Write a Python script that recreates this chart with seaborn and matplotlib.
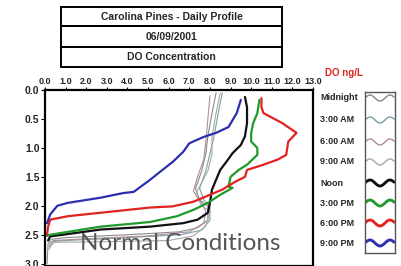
import numpy as np
import pandas as pd
import matplotlib
matplotlib.use("Agg")
import matplotlib.pyplot as plt
import seaborn as sns
from matplotlib.patches import Rectangle

# ===================== data =====================
series_names = ["Midnight", "3:00 AM", "6:00 AM", "9:00 AM", "Noon", "3:00 PM", "6:00 PM", "9:00 PM"]
series_colors = ["#8a8a8a", "#7d9fa8", "#b08c9c", "#a8a8a8", "#111111", "#1f9a2c", "#e0231e", "#2b2fb0"]
series_widths = [0.8, 0.8, 0.8, 0.8, 1.6, 1.6, 1.6, 1.6]

do_midnight = [8.3, 8.1, 7.9, 7.8, 7.6, 7.3, 7.5, 7.9, 7.9, 7.4, 6.5, 4.0, 1.0, 0.3, 0.15, 0.1]
dep_midnight = [0.05, 0.4, 0.8, 1.1, 1.4, 1.7, 1.9, 2.0, 2.25, 2.38, 2.45, 2.5, 2.55, 2.58, 2.65, 3.0]
do_3am = [8.6, 8.4, 8.2, 8.0, 7.8, 7.5, 7.7, 8.0, 8.0, 7.6, 6.6, 4.0, 1.0, 0.3, 0.2]
dep_3am = [0.05, 0.4, 0.8, 1.1, 1.4, 1.7, 1.9, 2.0, 2.25, 2.42, 2.5, 2.55, 2.6, 2.62, 2.7]
do_6am = [8.0, 7.9, 7.8, 7.7, 7.4, 7.2, 7.6, 7.8, 7.7, 7.0, 5.0, 2.0, 0.4, 0.2]
dep_6am = [0.1, 0.5, 0.9, 1.2, 1.5, 1.75, 1.95, 2.1, 2.3, 2.45, 2.52, 2.57, 2.6, 2.75]
do_9am = [8.5, 8.3, 8.1, 8.1, 7.9, 7.6, 7.3, 7.6, 8.0, 7.8, 7.2, 6.0, 3.0, 0.5, 0.2]
dep_9am = [0.05, 0.4, 0.8, 1.1, 1.4, 1.6, 1.8, 2.0, 2.1, 2.35, 2.52, 2.6, 2.62, 2.63, 2.7]
do_noon = [9.7, 9.8, 9.8, 9.7, 9.5, 9.1, 8.8, 8.5, 8.3, 8.1, 8.0, 7.9, 7.4, 6.7, 5.1, 2.7, 0.25, 0.15]
dep_noon = [0.12, 0.3, 0.57, 0.8, 0.95, 1.09, 1.24, 1.38, 1.55, 1.72, 1.95, 2.12, 2.24, 2.3, 2.36, 2.41, 2.53, 2.6]
do_3pm = [10.4, 10.3, 10.1, 10.0, 10.0, 10.3, 10.3, 9.8, 9.4, 9.0, 8.9, 9.1, 8.5, 7.9, 7.2, 6.4, 5.1, 2.7, 0.25, 0.1]
dep_3pm = [0.17, 0.4, 0.57, 0.74, 0.89, 1.0, 1.12, 1.29, 1.38, 1.5, 1.67, 1.69, 1.81, 1.95, 2.07, 2.18, 2.28, 2.36, 2.5, 2.52]
do_6pm = [10.5, 10.5, 10.6, 11.5, 12.2, 11.8, 11.7, 11.3, 10.6, 9.8, 9.7, 9.2, 8.6, 8.0, 7.2, 6.2, 5.1, 2.7, 1.1, 0.25, 0.15, 0.1]
dep_6pm = [0.14, 0.3, 0.4, 0.57, 0.74, 0.89, 1.12, 1.2, 1.29, 1.38, 1.5, 1.59, 1.72, 1.81, 1.93, 2.01, 2.03, 2.12, 2.18, 2.24, 2.36, 2.5]
do_9pm = [9.5, 9.3, 8.9, 8.3, 7.7, 7.0, 6.7, 6.2, 5.7, 5.1, 4.3, 3.8, 2.7, 1.1, 0.6, 0.25, 0.15, 0.1]
dep_9pm = [0.17, 0.4, 0.64, 0.74, 0.81, 0.92, 1.07, 1.24, 1.38, 1.55, 1.76, 1.78, 1.86, 1.95, 2.0, 2.15, 2.25, 2.3]

x_ticks = [0, 1, 2, 3, 4, 5, 6, 7, 8, 9, 10, 11, 12, 13]
x_tick_labels = ["0.0", "1.0", "2.0", "3.0", "4.0", "5.0", "6.0", "7.0", "8.0", "9.0", "10.0", "11.0", "12.0", "13.0"]
y_ticks = [0.0, 0.5, 1.0, 1.5, 2.0, 2.5, 3.0]
title_rows = ["Carolina Pines - Daily Profile", "06/09/2001", "DO Concentration"]
# ================================================

all_do = [do_midnight, do_3am, do_6am, do_9am, do_noon, do_3pm, do_6pm, do_9pm]
all_dep = [dep_midnight, dep_3am, dep_6am, dep_9am, dep_noon, dep_3pm, dep_6pm, dep_9pm]
frames = []
for name, d, z in zip(series_names, all_do, all_dep):
    frames.append(pd.DataFrame({"DO": d, "depth": z, "time": name}))
df = pd.concat(frames, ignore_index=True)

sns.set_style("white")
plt.rcParams['font.family'] = ['Liberation Sans Narrow', 'Liberation Sans', 'DejaVu Sans']

W, H = 401, 266
fig = plt.figure(figsize=(W / 100, H / 100), dpi=100)
ax = fig.add_axes([45 / W, 0, 268 / W, 176 / H])

for name, col, lw in zip(series_names, series_colors, series_widths):
    sub = df[df["time"] == name]
    sns.lineplot(data=sub, x="DO", y="depth", sort=False, estimator=None,
                 color=col, linewidth=lw, ax=ax, legend=False)

ax.set_xlim(0, 13)
ax.set_ylim(3.04, 0)
ax.xaxis.tick_top()
ax.set_xticks(x_ticks)
ax.set_xticklabels(x_tick_labels, fontsize=6.5, fontweight="bold")
ax.set_yticks(y_ticks)
ax.set_yticklabels([f"{v:.1f}" for v in y_ticks], fontsize=7.5, fontweight="bold")
ax.tick_params(axis="x", length=2, width=0.8, pad=1, color="black")
ax.tick_params(axis="y", length=3, width=0.8, pad=1, color="black", left=True)
ax.set_xlabel("")
ax.set_ylabel("")
for s in ax.spines.values():
    s.set_color("black")
    s.set_linewidth(1.6)

fig.text(325 / W, 1 - 73 / H, "DO ng/L", color="#d8261e", fontsize=7,
         fontweight="bold", ha="left", va="center")

# title table
tx0, tx1 = 61 / W, 282 / W
row_edges = [7, 26, 47, 67]
for i, txt in enumerate(title_rows):
    y0 = 1 - row_edges[i + 1] / H
    h = (row_edges[i + 1] - row_edges[i]) / H
    fig.add_artist(Rectangle((tx0, y0), tx1 - tx0, h, transform=fig.transFigure,
                             fill=False, edgecolor="black", linewidth=1.4))
    fig.text((tx0 + tx1) / 2, y0 + h / 2, txt, ha="center", va="center",
             fontsize=7.5, fontweight="bold")

# legend labels + wavy swatches
leg_y = [98, 120, 142, 162, 183, 203, 223, 243]
for name, yy in zip(series_names, leg_y):
    fig.text(320 / W, 1 - yy / H, name, fontsize=6.5, fontweight="bold",
             ha="left", va="center")
lax = fig.add_axes([365 / W, 1 - 253 / H, 30 / W, 161 / H])
lax.set_xlim(0, 1)
lax.set_ylim(253, 92)
wx = np.linspace(0.03, 0.97, 60)
for col, lw, yy in zip(series_colors, series_widths, leg_y):
    lax.plot(wx, yy + 3 * np.sin(wx * 2 * np.pi * 1.5 + np.pi), color=col, linewidth=lw * 1.3)
lax.set_xticks([])
lax.set_yticks([])
for s in lax.spines.values():
    s.set_color("#555555")
    s.set_linewidth(1.0)

fig.text(80 / W, 1 - 243 / H, "Normal Conditions", fontsize=17.5, color="#555555",
         family="Lato", ha="left", va="center")

fig.savefig("out.png", dpi=100)
